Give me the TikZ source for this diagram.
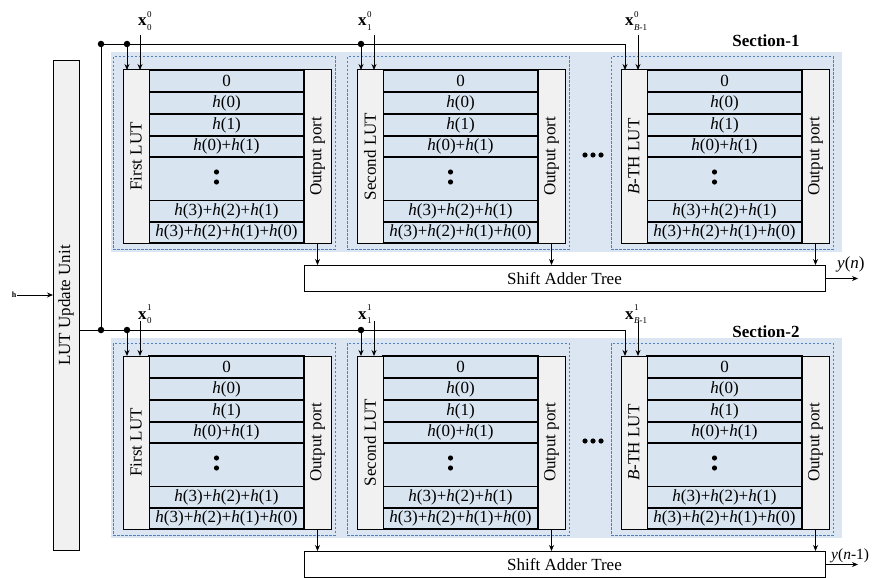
\documentclass[tikz,border=0pt]{standalone}
\usepackage{fontspec}
\setmainfont{Liberation Serif}
\usetikzlibrary{arrows.meta}
\definecolor{secbg}{RGB}{220,230,242}
\definecolor{rowbg}{RGB}{217,228,241}
\definecolor{sidebg}{RGB}{241,241,241}
\definecolor{dashblue}{RGB}{79,129,189}
\newcommand{\xlab}[2]{\textbf{x}\hspace{0.5pt}\makebox[0pt][l]{\raisebox{8.5pt}{\fontsize{9}{9}\selectfont #1}}\raisebox{-4.5pt}{\fontsize{9}{9}\selectfont #2}}
\begin{document}
\begin{tikzpicture}[x=1pt,y=-1pt,
  font=\fontsize{17}{20}\selectfont,
  side/.style={draw=black, fill=sidebg, line width=1pt, inner sep=0, outer sep=0,
    minimum width=26, minimum height=173, anchor=north west},
  cell/.style={draw=black, fill=rowbg, line width=1.3pt, inner sep=0, outer sep=0,
    minimum width=155, anchor=north west},
  dashbox/.style={draw=dashblue, line width=1pt, dash pattern=on 2.5pt off 1.5pt},
  satbox/.style={draw=black, fill=white, line width=1pt, inner sep=0, outer sep=0,
    minimum width=521, minimum height=26.5, anchor=north west},
  arr/.style={-{Stealth[length=6pt,width=5pt]}, line width=0.9pt},
  bus/.style={line width=0.9pt},
  jdot/.style={circle, fill=black, inner sep=0, minimum size=6.5pt}]
\useasboundingbox (0,0) rectangle (873,578);

% LUT update unit
\node[draw=black, fill=sidebg, line width=1pt, inner sep=0, outer sep=0,
  minimum width=26, minimum height=489, anchor=north west] (LUU) at (53,61) {};
\node[rotate=90] (LUUt) at (LUU.center) {LUT Update Unit};
\node[font=\bfseries\fontsize{8}{8}\selectfont, inner sep=1pt] (hin) at (14,295) {h};
\draw[arr] (hin.east) -- (hin.east -| LUU.west);

\foreach \si/\oy/\sx/\lyb/\secy in {1/0/0/26/41, 2/286/1/319/332}{
  \fill[secbg] (111,52+\oy) rectangle (842,252+\oy);
  \node[font=\bfseries\fontsize{17}{20}\selectfont] (sec\si) at (766,\secy) {Section-\si};
  \node[satbox] (SAT\si) at (304,265+\oy) {Shift Adder Tree};
  \fill (585,155+\oy) circle (2.6) (593,155+\oy) circle (2.6) (601,155+\oy) circle (2.6);
  \foreach \bi/\bx/\lx/\blab/\bsub in {1/123/15/First LUT/0, 2/357/1/Second LUT/1, 3/621/4/{\textit{B}-TH LUT}/{\textit{B}-1}}{
    \draw[dashbox] (\bx-10,57+\oy) rectangle (\bx+212,249+\oy);
    \foreach \ri/\rt/\rh/\rtxt in {1/0/22/{0}, 2/22/22/{\textit{h}(0)}, 3/44/22/{\textit{h}(1)},
        4/66/21/{\textit{h}(0)+\textit{h}(1)}, 5/87/43.5/{},
        6/130.5/21.5/{\textit{h}(3)+\textit{h}(2)+\textit{h}(1)},
        7/152/21/{\textit{h}(3)+\textit{h}(2)+\textit{h}(1)+\textit{h}(0)}}{
      \node[cell, minimum height=\rh] (R\si\bi\ri) at (\bx+26,70+\oy+\rt) {\rtxt};
    }
    \fill (\bx+93.5,172+\oy) circle (2.6) (\bx+93.5,182+\oy) circle (2.6);
    \node[side] (L\si\bi) at (\bx,70+\oy) {};
    \node[rotate=90] (Lt\si\bi) at (L\si\bi.center) {\blab};
    \node[side, minimum width=27] (O\si\bi) at (\bx+181,70+\oy) {};
    \node[rotate=90] (Ot\si\bi) at (O\si\bi.center) {Output port};
    \coordinate (T\si\bi) at (\bx+4,70+\oy);
    \coordinate (I\si\bi) at (\bx+17,70+\oy);
    \coordinate (S\si\bi) at (\bx+17,35+\oy);
    \node[anchor=base west, inner sep=0] (X\si\bi) at (\bx+\lx,\lyb) {\xlab{\sx}{\bsub}};
    \draw[arr] (S\si\bi) -- (I\si\bi);
    \draw[arr] (O\si\bi.south) -- (O\si\bi.south |- SAT\si.north);
  }
  \node[jdot] (J\si) at (101,44+\oy) {};
  \node[jdot] (D\si1) at (127,44+\oy) {};
  \node[jdot] (D\si2) at (361,44+\oy) {};
  \draw[arr] (D\si1.center) -- (T\si1);
  \draw[arr] (D\si2.center) -- (T\si2);
  \coordinate (Y\si) at (858,278.5+\oy);
  \draw[arr] (SAT\si.east |- Y\si) -- (Y\si);
}
\draw[arr, bus] (J1.center) -| (T13);
\draw[arr, bus] (LUU.east |- J2.center) -| (T23);
\draw[bus] (J1.center) -- (J2.center);
\node[anchor=base west, inner sep=0] (yn) at (837,268) {\textit{y}(\textit{n})};
\node[anchor=base west, inner sep=0, font=\fontsize{15.5}{18}\selectfont] (yn1) at (831,559) {\textit{y}(\textit{n}-1)};
\end{tikzpicture}
\end{document}
